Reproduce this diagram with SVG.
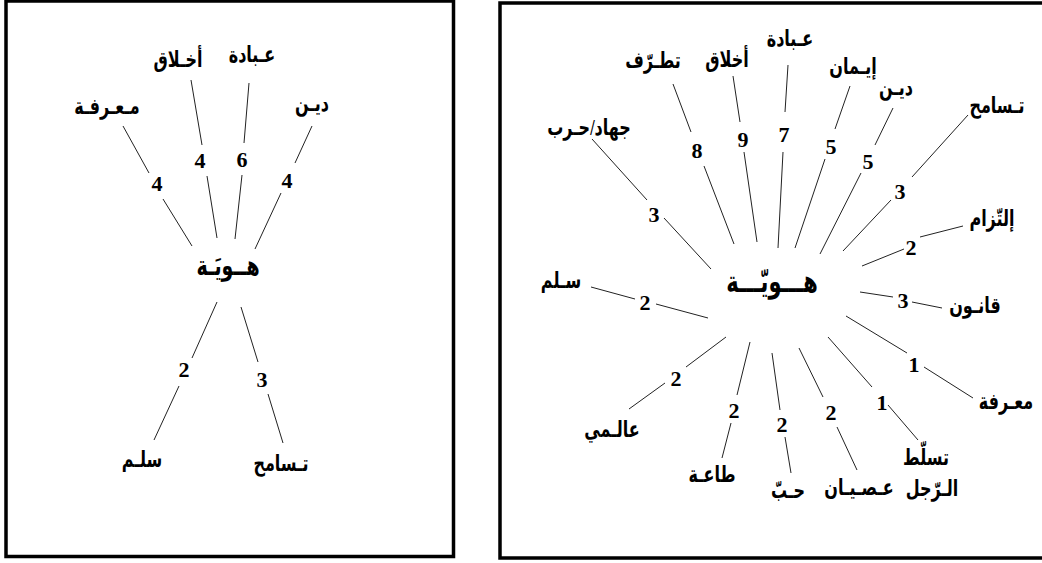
<svg xmlns="http://www.w3.org/2000/svg" width="1042" height="563" viewBox="0 0 1042 563">
<style>
.frame{fill:none;stroke:#000;stroke-width:3.5}
.e line{stroke:#222;stroke-width:1}
.lbl{font-family:"Liberation Serif","DejaVu Sans",serif;font-weight:bold;font-size:16px;text-anchor:middle;fill:#000}
.hub{font-family:"Liberation Serif","DejaVu Sans",serif;font-weight:bold;font-size:19px;text-anchor:middle;fill:#000}
.num{font-family:"Liberation Serif",serif;font-weight:bold;font-size:22px;text-anchor:middle;fill:#000}
</style>
<rect width="1042" height="563" fill="#fff"/>
<rect class="frame" x="6" y="1" width="447.5" height="555.5"/>
<rect class="frame" x="500" y="3" width="600" height="555"/>

<g id="connectors" class="e">
<line x1="123" y1="126" x2="149" y2="173"/><line x1="163" y1="199" x2="192" y2="246"/>
<line x1="191" y1="80" x2="202" y2="145"/><line x1="207" y1="176" x2="217" y2="238"/>
<line x1="249" y1="83" x2="244" y2="143"/><line x1="242" y1="175" x2="235" y2="239"/>
<line x1="312" y1="126" x2="295" y2="163"/><line x1="281" y1="193" x2="255" y2="249"/>
<line x1="217" y1="302" x2="192" y2="358"/><line x1="179" y1="386" x2="154" y2="440"/>
<line x1="241" y1="307" x2="258" y2="362"/><line x1="268" y1="394" x2="283" y2="443"/>
<line x1="592" y1="139" x2="647" y2="200"/><line x1="664" y1="218" x2="711" y2="269"/>
<line x1="673" y1="84" x2="691" y2="132"/><line x1="704" y1="166" x2="734" y2="244"/>
<line x1="733" y1="76" x2="740" y2="122"/><line x1="744" y1="152" x2="757" y2="242"/>
<line x1="788" y1="65" x2="785" y2="112"/><line x1="783" y1="152" x2="778" y2="248"/>
<line x1="850" y1="86" x2="835" y2="129"/><line x1="825" y1="159" x2="795" y2="248"/>
<line x1="893" y1="108" x2="875" y2="145"/><line x1="861" y1="173" x2="820" y2="254"/>
<line x1="968" y1="115" x2="912" y2="177"/><line x1="891" y1="200" x2="843" y2="251"/>
<line x1="963" y1="226" x2="920" y2="237"/><line x1="904" y1="249" x2="862" y2="266"/>
<line x1="860" y1="292" x2="893" y2="297"/><line x1="912" y1="302" x2="942" y2="308"/>
<line x1="846" y1="316" x2="907" y2="353"/><line x1="924" y1="367" x2="973" y2="398"/>
<line x1="828" y1="337" x2="872" y2="387"/><line x1="888" y1="405" x2="918" y2="440"/>
<line x1="799" y1="348" x2="823" y2="397"/><line x1="837" y1="427" x2="857" y2="470"/>
<line x1="772" y1="353" x2="780" y2="410"/><line x1="785" y1="437" x2="791" y2="473"/>
<line x1="750" y1="342" x2="737" y2="395"/><line x1="731" y1="423" x2="722" y2="458"/>
<line x1="726" y1="337" x2="686" y2="367"/><line x1="665" y1="383" x2="629" y2="409"/>
<line x1="591" y1="287" x2="635" y2="299"/><line x1="656" y1="304" x2="708" y2="318"/>
</g>

<g id="L-hub"><text class="hub" transform="translate(228 275) scale(1 1.45)">هــويَـة</text></g>
<g id="L-marifa"><text class="lbl" transform="translate(107 114) scale(1 1.4)">مـعـرفـة</text><text class="num" x="157" y="191">4</text></g>
<g id="L-akhlaq"><text class="lbl" transform="translate(178 67) scale(1 1.4)">أخـلاق</text><text class="num" x="200" y="168">4</text></g>
<g id="L-ibada"><text class="lbl" transform="translate(252 62) scale(1 1.4)">عـبادة</text><text class="num" x="242" y="167">6</text></g>
<g id="L-din"><text class="lbl" transform="translate(312 111) scale(1 1.4)">ديـن</text><text class="num" x="287" y="188">4</text></g>
<g id="L-salm"><text class="lbl" transform="translate(142 467) scale(1 1.4)">سلـم</text><text class="num" x="184" y="377">2</text></g>
<g id="L-tasamuh"><text class="lbl" transform="translate(281 471) scale(1 1.4)">تـسامح</text><text class="num" x="262" y="387">3</text></g>

<g id="R-hub"><text class="hub" style="font-size:21px" transform="translate(772 292) scale(1 1.45)">هـــويّـــة</text></g>
<g id="R-jihad"><text class="lbl" transform="translate(589 135) scale(1 1.4)">جهاد/حـرب</text><text class="num" x="654" y="222">3</text></g>
<g id="R-tatarruf"><text class="lbl" transform="translate(653 68) scale(1 1.4)">تطـرّف</text><text class="num" x="697" y="158">8</text></g>
<g id="R-akhlaq"><text class="lbl" transform="translate(727 67) scale(1 1.4)">أخلاق</text><text class="num" x="743" y="147">9</text></g>
<g id="R-ibada"><text class="lbl" transform="translate(790 46) scale(1 1.4)">عـبادة</text><text class="num" x="784" y="142">7</text></g>
<g id="R-iman"><text class="lbl" transform="translate(853 74) scale(1 1.4)">إيـمان</text><text class="num" x="831" y="154">5</text></g>
<g id="R-din"><text class="lbl" transform="translate(896 95) scale(1 1.4)">ديـن</text><text class="num" x="868" y="169">5</text></g>
<g id="R-tasamuh"><text class="lbl" transform="translate(997 113) scale(1 1.4)">تـسامح</text><text class="num" x="900" y="199">3</text></g>
<g id="R-iltizam"><text class="lbl" transform="translate(992 226) scale(1 1.4)">إلتّزام</text><text class="num" x="911" y="255">2</text></g>
<g id="R-qanun"><text class="lbl" transform="translate(975 313) scale(1 1.4)">قانـون</text><text class="num" x="903" y="308">3</text></g>
<g id="R-marifa"><text class="lbl" transform="translate(1006 409) scale(1 1.4)">معـرفة</text><text class="num" x="914" y="372">1</text></g>
<g id="R-tasallut"><text class="lbl" transform="translate(926 465) scale(1 1.4)">تسلّط</text><text class="lbl" transform="translate(932 496) scale(1 1.4)">الـرّجل</text><text class="num" x="882" y="410">1</text></g>
<g id="R-isyan"><text class="lbl" transform="translate(859 495) scale(1 1.4)">عـصـيـان</text><text class="num" x="831" y="420">2</text></g>
<g id="R-hubb"><text class="lbl" transform="translate(788 498) scale(1 1.4)">حـبّ</text><text class="num" x="782" y="432">2</text></g>
<g id="R-taa"><text class="lbl" transform="translate(712 482) scale(1 1.4)">طاعـة</text><text class="num" x="734" y="418">2</text></g>
<g id="R-alami"><text class="lbl" transform="translate(612 437) scale(1 1.4)">عالـمي</text><text class="num" x="676" y="386">2</text></g>
<g id="R-salm"><text class="lbl" transform="translate(561 288) scale(1 1.4)">سـلم</text><text class="num" x="645" y="310">2</text></g>
</svg>
